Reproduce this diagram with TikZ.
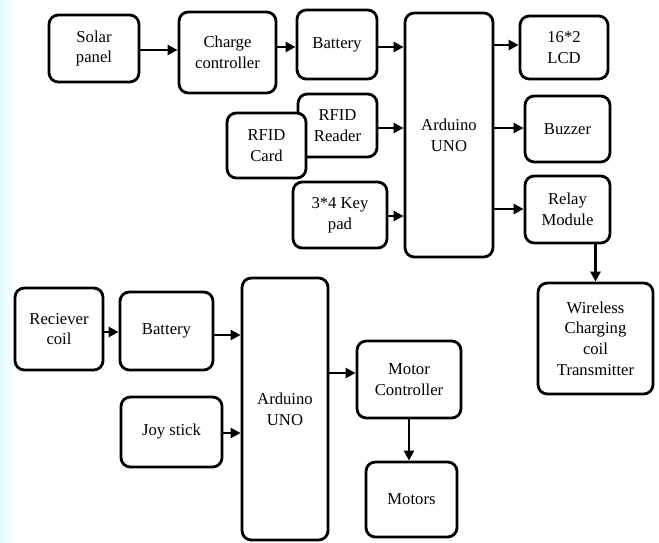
\documentclass[tikz,border=0pt]{standalone}
\usepackage{fontspec}
\setmainfont{Liberation Serif}
\usetikzlibrary{arrows.meta}
\newcommand\blk[6]{\node[box,minimum width={(#4-#2)*0.75pt},minimum height={(#5-#3)*0.75pt}]
  (#1) at ({(#2+#4)/2},{(#3+#5)/2}) {#6};}
\begin{document}
\begin{tikzpicture}[x=0.75pt,y=-0.75pt,
  box/.style={draw,line width=2.1pt,rounded corners=7pt,fill=white,inner sep=0pt,
    align=center,font=\fontsize{12.5}{15.5}\selectfont},
  arr/.style={line width=2.1pt,-{Triangle[length=7.5pt,width=7.5pt]}}]
\useasboundingbox (0,0) rectangle (659,542);
\fill[left color=blue!14!cyan!12,right color=white] (0,0) rectangle (18,542);
% top system
\blk{solar}{49}{15}{139}{82}{Solar\\panel}
\blk{charge}{179}{12}{276}{93}{Charge\\controller}
\blk{bat1}{297}{10}{377}{79}{Battery}
\blk{reader}{298}{94}{377}{157}{RFID\\Reader}
\blk{card}{227}{113}{306}{178}{RFID\\Card}
\blk{keypad}{293}{182}{387}{248}{3*4 Key\\pad}
\blk{ard1}{405}{13}{493}{257}{Arduino\\UNO}
\blk{lcd}{520}{16}{608}{79}{16*2\\LCD}
\blk{buzzer}{525}{96}{610}{162}{Buzzer}
\blk{relay}{525}{176}{610}{243}{Relay\\Module}
\blk{wl}{538}{283}{653}{394}{Wireless\\Charging\\coil\\Transmitter}
\draw[arr] (solar.east |- 0,50) -- (charge.west |- 0,50);
\draw[arr] (charge.east |- 0,47) -- (bat1.west |- 0,47);
\draw[arr] (bat1.east |- 0,47) -- (ard1.west |- 0,47);
\draw[arr] (reader.east |- 0,128) -- (ard1.west |- 0,128);
\draw[arr] (keypad.east |- 0,216) -- (ard1.west |- 0,216);
\draw[arr] (ard1.east |- 0,45) -- (lcd.west |- 0,45);
\draw[arr] (ard1.east |- 0,128) -- (buzzer.west |- 0,128);
\draw[arr] (ard1.east |- 0,209) -- (relay.west |- 0,209);
\draw[arr] (relay.south -| wl.north) -- (wl.north);
% bottom system
\blk{coil}{15}{288}{103}{370}{Reciever\\coil}
\blk{bat2}{120}{292}{213}{370}{Battery}
\blk{joy}{121}{397}{222}{467}{Joy stick}
\blk{ard2}{242}{278}{328}{540}{Arduino\\UNO}
\blk{mc}{357}{341}{461}{418}{Motor\\Controller}
\blk{motors}{366}{462}{457}{537}{Motors}
\draw[arr] (coil.east |- 0,332) -- (bat2.west |- 0,332);
\draw[arr] (bat2.east |- 0,335) -- (ard2.west |- 0,335);
\draw[arr] (joy.east |- 0,433) -- (ard2.west |- 0,433);
\draw[arr] (ard2.east |- 0,373) -- (mc.west |- 0,373);
\draw[arr] (mc.south) -- (motors.north -| mc.south);
\end{tikzpicture}
\end{document}
